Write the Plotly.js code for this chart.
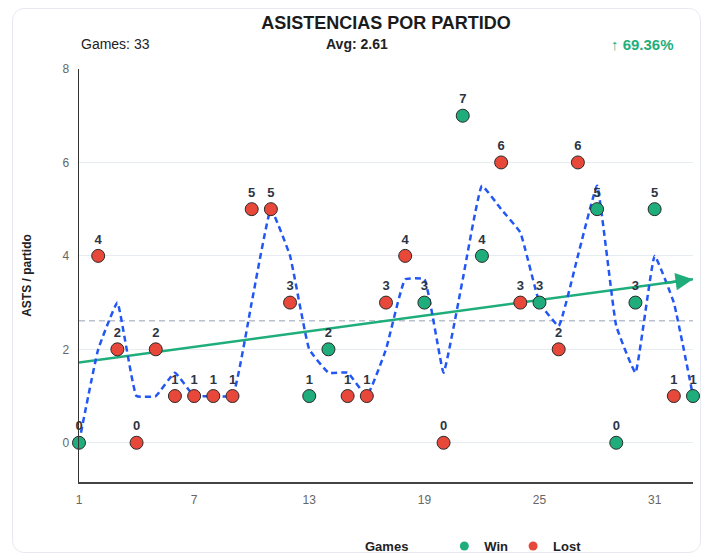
<!DOCTYPE html>
<html>
<head>
<meta charset="utf-8">
<script src="https://cdn.plot.ly/plotly-3.0.1.min.js"></script>
<style>
  html, body { margin: 0; padding: 0; background: #ffffff; }
  #card { position: absolute; left: 12px; top: 8px; width: 689px; height: 545px;
          border: 1px solid #e6eaf0; border-radius: 12px; box-sizing: border-box; }
  #chart { position: absolute; left: 0; top: 0; width: 707px; height: 555px; }
</style>
</head>
<body>
<div id="card"></div>
<div id="chart"></div>
<script>
// ---- data ----
const games = [1,2,3,4,5,6,7,8,9,10,11,12,13,14,15,16,17,18,19,20,21,22,23,24,25,26,27,28,29,30,31,32,33];
const asts = [0,4,2,0,2,1,1,1,1,5,5,3,1,2,1,1,3,4,3,0,7,4,6,3,3,2,6,5,0,3,5,1,1];
const results = ['W','L','L','L','L','L','L','L','L','L','L','L','W','W','L','L','L','L','W','L','W','W','L','L','W','L','L','W','W','W','W','L','W'];
const movingAvg = [0,2,3,1,1,1.5,1,1,1,3,5,4,2,1.5,1.5,1,2,3.5,3.5,1.5,3.5,5.5,5,4.5,3,2.5,4,5.5,2.5,1.5,4,3,1];
const trendX = [1, 33];
const trendY = [1.72, 3.5];
const avgValue = 2.61;
const avgX = [1, 33];
const yTicks = [0,2,4,6,8];
const xTicks = [1,7,13,19,25,31];
const headerGames = 'Games: 33';
const headerAvg = 'Avg: 2.61';
const headerChange = '↑ 69.36%';

const GREEN = '#1fae7b';
const RED = '#e8483a';
const BLUE = '#2257f5';
const FONT = '"Liberation Sans", Arial, sans-serif';

const pointColors = results.map(r => r === 'W' ? GREEN : RED);

const traces = [
  { // average line
    x: avgX, y: [avgValue, avgValue], mode: 'lines', showlegend: false, hoverinfo: 'skip',
    line: { color: '#b9c1cd', width: 1.5, dash: '6px,4px' }
  },
  { // trend line
    x: trendX, y: trendY, mode: 'lines', showlegend: false, hoverinfo: 'skip',
    line: { color: GREEN, width: 2.5 }
  },
  { // moving average
    x: games, y: movingAvg, mode: 'lines', showlegend: false, hoverinfo: 'skip',
    line: { color: BLUE, width: 2.5, dash: '6px,4px', shape: 'spline', smoothing: 0.3 }
  },
  { // points
    x: games, y: asts, mode: 'markers+text', showlegend: false, cliponaxis: false,
    text: asts.map(String), textposition: 'top center',
    textfont: { family: FONT, size: 13, color: '#2d3443', weight: 'bold' },
    marker: { size: 13, color: pointColors, line: { color: '#2a2a2a', width: 1 } }
  },
  { x: [null], y: [null], mode: 'markers', name: 'Win', marker: { size: 9, color: GREEN } },
  { x: [null], y: [null], mode: 'markers', name: 'Lost', marker: { size: 9, color: RED } }
];

const slope = (trendY[1] - trendY[0]) / (trendX[1] - trendX[0]);

const layout = {
  width: 707, height: 555,
  margin: { l: 79, r: 14, t: 69, b: 73, autoexpand: false },
  paper_bgcolor: 'rgba(0,0,0,0)',
  plot_bgcolor: 'rgba(0,0,0,0)',
  font: { family: FONT },
  title: {
    text: 'ASISTENCIAS POR PARTIDO',
    font: { family: FONT, size: 18, color: '#1b1b1b', weight: 'bold' },
    x: 0.5, xref: 'paper', y: 1 - 23 / 555, yref: 'container', yanchor: 'middle'
  },
  xaxis: {
    range: [1, 33], tickvals: xTicks, ticktext: xTicks.map(String),
    showgrid: false, zeroline: false, automargin: false,
    showline: true, linecolor: '#444', linewidth: 1.5,
    ticks: '', ticklabelstandoff: 6,
    tickfont: { family: FONT, size: 12, color: '#666' }
  },
  yaxis: {
    range: [-0.84, 8.0], tickvals: yTicks, ticktext: yTicks.map(String),
    showgrid: true, gridcolor: '#e7ecf2', gridwidth: 1, zeroline: false, automargin: false,
    showline: true, linecolor: '#333', linewidth: 1.5,
    ticks: '', ticklabelstandoff: 6,
    tickfont: { family: FONT, size: 12, color: '#666' },
    title: { text: 'ASTS / partido', standoff: 28,
             font: { family: FONT, size: 12, color: '#222', weight: 'bold' } }
  },
  legend: {
    orientation: 'h', x: 0.595, xanchor: 'left', y: (482 - 546) / 413, yanchor: 'middle',
    font: { family: FONT, size: 13, color: '#222', weight: 'bold' },
    bgcolor: 'rgba(0,0,0,0)', itemwidth: 30
  },
  annotations: [
    { text: headerGames, xref: 'paper', yref: 'paper', x: 0, y: (482 - 44) / 413,
      xanchor: 'left', yanchor: 'middle', showarrow: false,
      font: { family: FONT, size: 14, color: '#222' } },
    { text: headerAvg, xref: 'paper', yref: 'paper', x: (357 - 79) / 614, y: (482 - 44) / 413,
      xanchor: 'center', yanchor: 'middle', showarrow: false,
      font: { family: FONT, size: 14, color: '#222', weight: 'bold' } },
    { text: headerChange, xref: 'paper', yref: 'paper', x: (676 - 79) / 614, y: (482 - 44) / 413,
      xanchor: 'right', yanchor: 'middle', showarrow: false,
      font: { family: FONT, size: 15, color: GREEN, weight: 'bold' } },
    { text: 'Games', xref: 'paper', yref: 'paper', x: 0.5, y: (482 - 546) / 413,
      xanchor: 'center', yanchor: 'middle', showarrow: false,
      font: { family: FONT, size: 13, color: '#222', weight: 'bold' } },
    { text: '', x: trendX[1], y: trendY[1], xref: 'x', yref: 'y',
      ax: trendX[1] - 1.5, ay: trendY[1] - 1.5 * slope, axref: 'x', ayref: 'y',
      showarrow: true, arrowhead: 2, arrowsize: 1.4, arrowwidth: 2.5, arrowcolor: GREEN }
  ]
};

Plotly.newPlot('chart', traces, layout, { displayModeBar: false, staticPlot: true });
</script>
</body>
</html>
